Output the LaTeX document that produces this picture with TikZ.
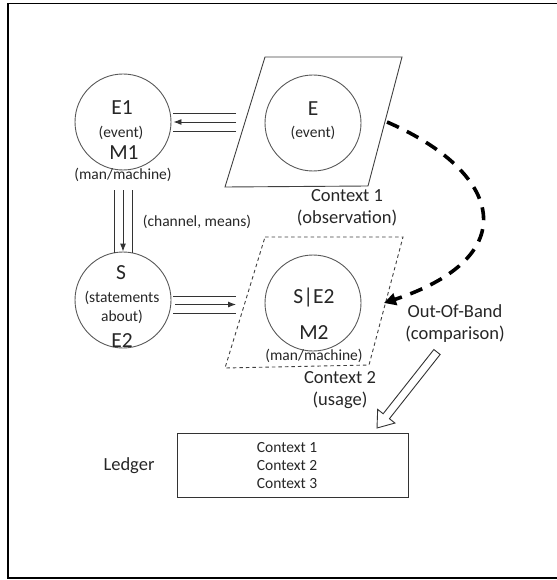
\documentclass[tikz,border=0pt]{standalone}
\usepackage{fontspec}
\setmainfont{Carlito}
\usetikzlibrary{arrows.meta,calc}
\begin{document}
\begin{tikzpicture}[x=1pt,y=-1pt,
  huge/.style={font=\fontsize{21.5}{24}\selectfont, inner sep=0pt, text=black!85},
  big/.style={font=\fontsize{18.5}{22}\selectfont, inner sep=0pt, text=black!85},
  small/.style={font=\fontsize{15.5}{18}\selectfont, inner sep=0pt, text=black!85},
  disc/.style={circle, draw=black!65, line width=0.9pt, minimum size=96pt, inner sep=0pt},
  ctxsolid/.style={draw=black!75, line width=0.9pt},
  ctxdash/.style={draw=black!75, line width=0.9pt, dash pattern=on 3.5pt off 3pt},
  rail/.style={draw=black!80, line width=0.9pt},
  arr/.style={-{Latex[length=8pt,width=6pt]}},
  oob/.style={draw=black, line width=3.6pt, dash pattern=on 13pt off 9pt,
              -{Triangle[length=12pt,width=12pt]}},
  ledgerbox/.style={draw=black!80, line width=1pt, minimum width=231pt,
                    minimum height=64pt, inner sep=0pt},
  hollowarrow/.style={draw=black!80, fill=white, line width=0.9pt, line join=miter}
]
\useasboundingbox (0,0) rectangle (556,580);
% outer frame (its right side runs past the page edge)
\draw[black, line width=1.6pt] (8,3.5) rectangle (562,578);

% context areas
\draw[ctxsolid] (265,57) -- (402,57) -- (368,186) -- (225,187) -- cycle;
\draw[ctxdash]  (265,237) -- (403,237) -- (369,365) -- (225,368) -- cycle;

% circles
\node[disc] (E1)  at (123,122) {};
\node[disc] (E)   at (313,123) {};
\node[disc] (S)   at (123,300) {};
\node[disc] (SE2) at (313,303) {};

% texts in and around the circles
\node[huge]  (tE1)  at (122,108) {E1};
\node[small] (tE1e) at (121,133) {(event)};
\node[huge]  (tM1)  at (124,153) {M1};
\node[small] (tM1m) at (123,175) {(man/machine)};

\node[huge]  (tE)   at (313,109) {E};
\node[small] (tEe)  at (313,133) {(event)};

\node[huge]  (tS)   at (121,273) {S};
\node[small] (tSs)  at (122,298) {(statements};
\node[small] (tSa)  at (122,317) {about)};
\node[huge]  (tE2)  at (122,341) {E2};

\node[huge]  (tSE2) at (314,297) {S|E2};
\node[huge]  (tM2)  at (314,333) {M2};
\node[small] (tM2m) at (314,356) {(man/machine)};

\node[small] (chan) at (197,222) {(channel, means)};

\node[big, align=center] (ctx1) at (347,208) {Context 1\\(observation)};
\node[big, align=center] (ctx2) at (340,390) {Context 2\\(usage)};
\node[big, align=center] (band) at (455,324) {Out-Of-Band\\(comparison)};

% ledger
\node[big] (ledgername) at (129,466) {Ledger};
\node[ledgerbox] (ledger) at (292.5,465) {};
\node[small, align=center] (ledgerrows) at (287,466) {Context 1\\Context 2\\Context 3};

% connector end points
\coordinate (c1in)  at (236,122);
\coordinate (c2in)  at (236,304.5);
\coordinate (c1out) at (387,122);
\coordinate (c2out) at (384,303);
\coordinate (oobtail) at (437,352);
\coordinate (ledgertip) at (377,428);

% E -> E1 (three rails, arrow on the middle one)
\foreach \d in {-9,9}
  \draw[rail] ($(c1in)+(0,\d)$) -- ($(E1.east)+(2,\d)$);
\draw[rail, arr] (c1in) -- ($(E1.east)+(2,0)$);

% E1 -> S
\foreach \d in {-9,9}
  \draw[rail] ($(E1.south)+(\d,20)$) -- ($(S.north)+(\d,1)$);
\draw[rail, arr] ($(E1.south)+(0,20)$) -- (S.north);

% S -> S|E2
\foreach \d in {-8.5,9}
  \draw[rail] ($(S.east)+(2,4.5+\d)$) -- ($(c2in)+(0,\d)$);
\draw[rail, arr] ($(S.east)+(4,4.5)$) -- (c2in);

% out-of-band link between the two contexts
\draw[oob] (c1out) .. controls (502,172) and (526,256) .. (c2out);

% hollow arrow into the ledger
\coordinate (headbase) at ($(ledgertip)!15pt!(oobtail)$);
\draw[hollowarrow]
  ($(oobtail)!4pt!90:(ledgertip)$) -- ($(headbase)!4pt!90:(ledgertip)$)
  -- ($(headbase)!11pt!90:(ledgertip)$) -- (ledgertip)
  -- ($(headbase)!11pt!-90:(ledgertip)$) -- ($(headbase)!4pt!-90:(ledgertip)$)
  -- ($(oobtail)!4pt!-90:(ledgertip)$) -- cycle;
\end{tikzpicture}
\end{document}
